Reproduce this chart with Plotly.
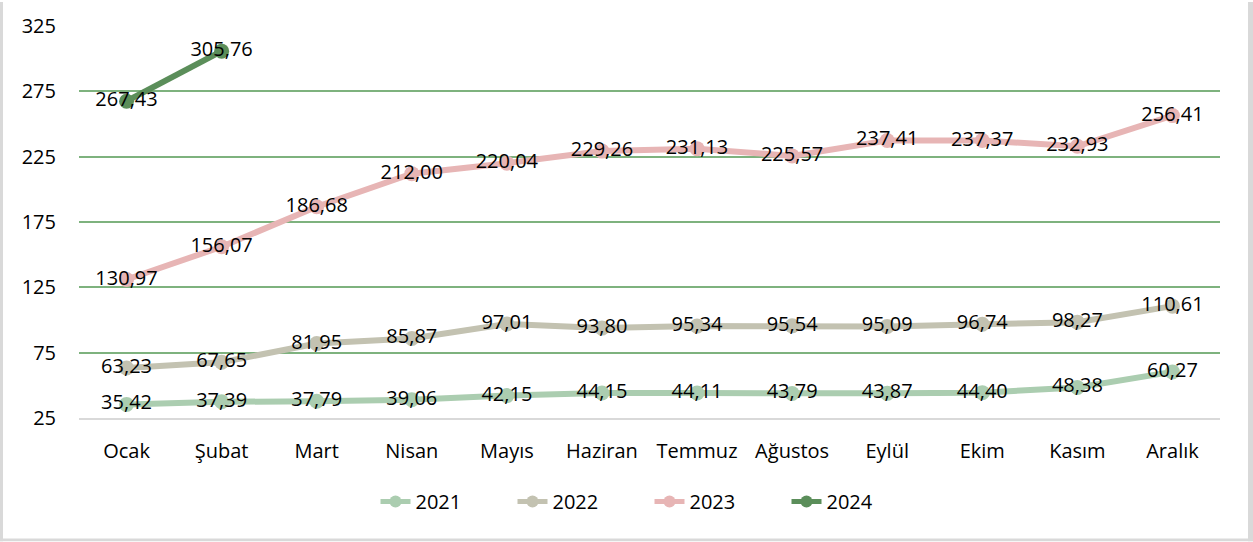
import plotly.graph_objects as go

months = ["Ocak", "Şubat", "Mart", "Nisan", "Mayıs", "Haziran", "Temmuz",
          "Ağustos", "Eylül", "Ekim", "Kasım", "Aralık"]
y2021 = [35.42, 37.39, 37.79, 39.06, 42.15, 44.15, 44.11, 43.79, 43.87, 44.40, 48.38, 60.27]
y2022 = [63.23, 67.65, 81.95, 85.87, 97.01, 93.80, 95.34, 95.54, 95.09, 96.74, 98.27, 110.61]
y2023 = [130.97, 156.07, 186.68, 212.00, 220.04, 229.26, 231.13, 225.57, 237.41, 237.37, 232.93, 256.41]
y2024 = [267.43, 305.76]
y_ticks = [25, 75, 125, 175, 225, 275, 325]

series = [
    ("2021", y2021, "#abcdb0"),
    ("2022", y2022, "#c3c2b1"),
    ("2023", y2023, "#e7b5b5"),
    ("2024", y2024, "#5b8e5a"),
]

FONT = "Open Sans"

fig = go.Figure()
for name, vals, color in series:
    fig.add_trace(go.Scatter(
        x=months[:len(vals)], y=vals, name=name,
        mode="lines+markers+text",
        line=dict(color=color, width=6),
        marker=dict(color=color, size=15),
        text=[f"{v:.2f}".replace(".", ",") for v in vals],
        textposition="middle center",
        textfont=dict(family=FONT, size=20, color="#000000"),
        cliponaxis=False,
    ))

# light grey frame (left, right, bottom edges)
W, H = 1253, 542
L, R, T, B = 79, 33, 24, 124
pw, ph = W - L - R, H - T - B
def px_x(p): return (p - L) / pw
def px_y(p): return (H - B - p) / ph
frame = "#d9d9d9"
shapes = [
    dict(type="rect", xref="paper", yref="paper", x0=px_x(0), x1=px_x(3),
         y0=px_y(542), y1=px_y(0), fillcolor=frame, line_width=0, layer="below"),
    dict(type="rect", xref="paper", yref="paper", x0=px_x(1248), x1=px_x(1253),
         y0=px_y(542), y1=px_y(0), fillcolor=frame, line_width=0, layer="below"),
    dict(type="rect", xref="paper", yref="paper", x0=px_x(0), x1=px_x(1253),
         y0=px_y(542), y1=px_y(539), fillcolor=frame, line_width=0, layer="below"),
]

fig.update_layout(
    width=W, height=H,
    margin=dict(l=L, r=R, t=T, b=B),
    plot_bgcolor="white", paper_bgcolor="white",
    font=dict(family=FONT, size=20, color="#000000"),
    shapes=shapes,
    xaxis=dict(
        type="category", range=[-0.5, 11.5], showgrid=False, zeroline=False,
        showline=True, linecolor="#d9d9d9", linewidth=2,
        ticks="", ticklabelstandoff=14,
    ),
    yaxis=dict(
        range=[25, 325], tickvals=y_ticks, showgrid=True,
        gridcolor="#7eb27e", gridwidth=1.5, zeroline=False, showline=False,
        ticks="", ticklabelstandoff=22,
    ),
    legend=dict(
        orientation="h", x=0.5, xanchor="center", y=px_y(502), yanchor="middle",
        font=dict(family=FONT, size=20), entrywidth=92, itemsizing="constant",
    ),
)

fig.write_html("out.html", config={"displayModeBar": False},
               post_script="document.body.style.margin='0';")
